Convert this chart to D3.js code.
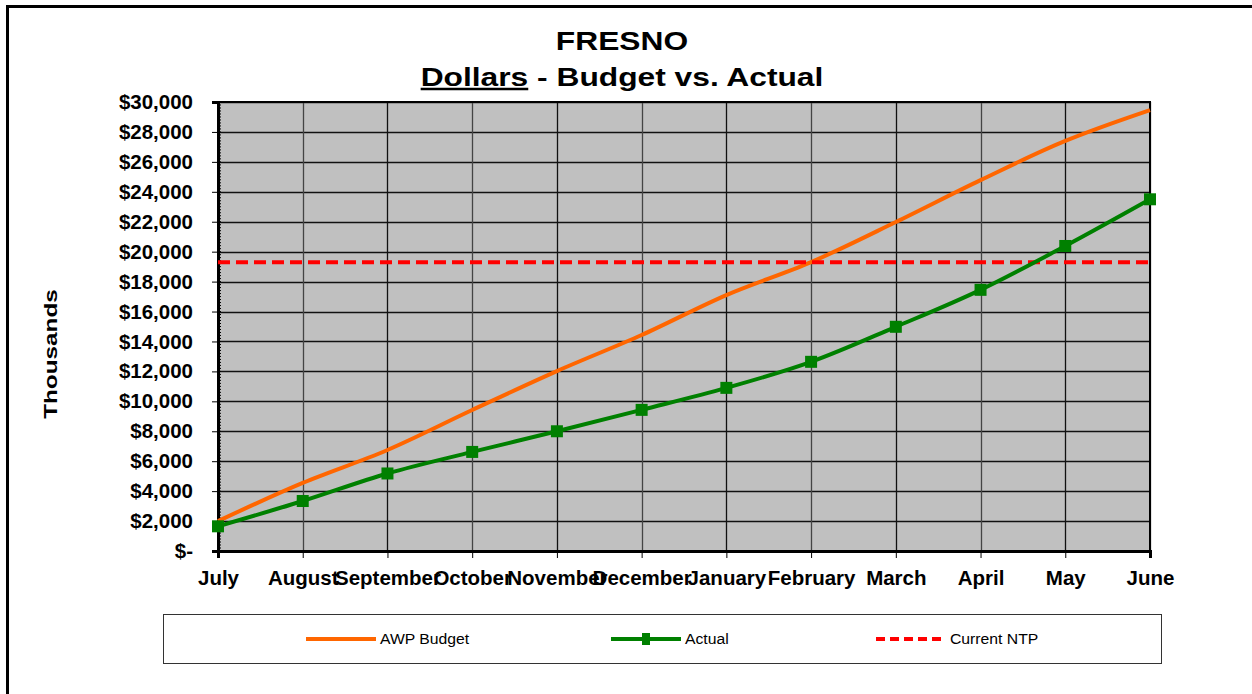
<!DOCTYPE html>
<html>
<head>
<meta charset="utf-8">
<script src="https://cdn.jsdelivr.net/npm/d3@7"></script>
<style>
  body { margin: 0; background: #fff; }
  svg { font-family: Arial, "Liberation Sans", sans-serif; display: block; }
</style>
</head>
<body>
<script>
var w = 1252;
var h = 694;

// data (thousands of dollars)
var months = ["July", "August", "September", "October", "November", "December",
  "January", "February", "March", "April", "May", "June"];
var budget = [2000, 4550, 6750, 9420, 12020, 14430, 17100, 19300, 21980, 24780, 27400, 29460];
var actual = [1650, 3340, 5180, 6620, 8000, 9430, 10900, 12640, 14980, 17450, 20380, 23500];
var ntp = 19300;
var yTicks = d3.range(0, 30001, 2000);

var margin = { top: 102, bottom: 143, left: 218, right: 102 };
var width = w - margin.left - margin.right;
var height = h - margin.top - margin.bottom;

var svg = d3.select("body")
  .append("svg")
  .attr("width", w)
  .attr("height", h);

// outer chart border
svg.append("rect")
  .attr("x", 7.5).attr("y", 6.5)
  .attr("width", w + 20).attr("height", h + 20)
  .attr("fill", "none")
  .attr("stroke", "#000")
  .attr("stroke-width", 3);

var x = d3.scalePoint()
  .domain(months)
  .range([0, width]);

var y = d3.scaleLinear()
  .domain([0, 30000])
  .range([height, 0]);

var g = svg.append("g")
  .attr("transform", "translate(" + margin.left + "," + margin.top + ")");

g.append("rect")
  .attr("width", width)
  .attr("height", height)
  .attr("fill", "#c0c0c0");

// grid
g.selectAll(".hgrid")
  .data(yTicks)
  .enter()
  .append("line")
  .attr("x1", 0).attr("x2", width)
  .attr("y1", function(d){ return Math.round(y(d)) + 0.5; })
  .attr("y2", function(d){ return Math.round(y(d)) + 0.5; })
  .attr("stroke", "#111")
  .attr("stroke-width", 1.3);

g.selectAll(".vgrid")
  .data(months)
  .enter()
  .append("line")
  .attr("x1", function(d){ return Math.round(x(d)) + 0.5; })
  .attr("x2", function(d){ return Math.round(x(d)) + 0.5; })
  .attr("y1", 0).attr("y2", height)
  .attr("stroke", function(d, i){ return i % 2 ? "#444" : "#111"; })
  .attr("stroke-width", 1.3);

// plot border
g.append("rect")
  .attr("width", width)
  .attr("height", height)
  .attr("fill", "none")
  .attr("stroke", "#000")
  .attr("stroke-width", 2);

// y axis
var yAxis = d3.axisLeft(y)
  .tickValues(yTicks)
  .tickSize(6)
  .tickPadding(19)
  .tickFormat(function(d){ return d == 0 ? "$-" : "$" + d3.format(",")(d); });

var ya = g.append("g").call(yAxis);
ya.select(".domain").attr("stroke-width", 3);
ya.selectAll("text")
  .attr("font-size", 20.5)
  .attr("font-weight", "bold")
  .attr("fill", "#000");

// minor ticks on the value axis
g.append("g")
  .selectAll("line")
  .data(d3.range(0, 30001, 200))
  .enter()
  .append("line")
  .attr("x1", -1).attr("x2", 3)
  .attr("y1", function(d){ return y(d); })
  .attr("y2", function(d){ return y(d); })
  .attr("stroke", "#000")
  .attr("stroke-width", 1);

// x axis
var xAxis = d3.axisBottom(x)
  .tickSize(7)
  .tickPadding(12);

var xa = g.append("g")
  .attr("transform", "translate(0," + height + ")")
  .call(xAxis);
xa.select(".domain").attr("stroke-width", 3);
xa.selectAll("text")
  .attr("font-size", 20.5)
  .attr("font-weight", "bold")
  .attr("fill", "#000");

// lines
var line = d3.line()
  .x(function(d, i){ return x(months[i]); })
  .y(function(d){ return y(d); })
  .curve(d3.curveCatmullRom);

g.append("path")
  .datum(budget)
  .attr("d", line)
  .attr("fill", "none")
  .attr("stroke", "#ff6600")
  .attr("stroke-width", 4);

g.append("line")
  .attr("x1", 0).attr("x2", width)
  .attr("y1", y(ntp)).attr("y2", y(ntp))
  .attr("stroke", "#ff0000")
  .attr("stroke-width", 4)
  .attr("stroke-dasharray", "12,6");

g.append("path")
  .datum(actual)
  .attr("d", line)
  .attr("fill", "none")
  .attr("stroke", "#008000")
  .attr("stroke-width", 4);

g.selectAll(".pt")
  .data(actual)
  .enter()
  .append("rect")
  .attr("x", function(d, i){ return x(months[i]) - 6; })
  .attr("y", function(d){ return y(d) - 6; })
  .attr("width", 12)
  .attr("height", 12)
  .attr("fill", "#008000");

// titles (the original type is stretched wide)
svg.append("text")
  .attr("transform", "translate(622,50) scale(1.27,1)")
  .attr("text-anchor", "middle")
  .attr("font-size", 25)
  .attr("font-weight", "bold")
  .text("FRESNO");

var t2 = svg.append("text")
  .attr("transform", "translate(622,86) scale(1.27,1)")
  .attr("text-anchor", "middle")
  .attr("font-size", 25)
  .attr("font-weight", "bold");
t2.append("tspan").attr("text-decoration", "underline").text("Dollars");
t2.append("tspan").text(" - Budget vs. Actual");

svg.append("text")
  .attr("transform", "translate(57,354) rotate(-90) scale(1.28,1)")
  .attr("text-anchor", "middle")
  .attr("font-size", 19)
  .attr("font-weight", "bold")
  .text("Thousands");

// legend
svg.append("rect")
  .attr("x", 163.5).attr("y", 614.5)
  .attr("width", 998).attr("height", 49)
  .attr("fill", "#fff")
  .attr("stroke", "#333")
  .attr("stroke-width", 1);

var legendItems = [
  { name: "AWP Budget", color: "#ff6600", x: 306, dash: null, marker: false },
  { name: "Actual", color: "#008000", x: 611, dash: null, marker: true },
  { name: "Current NTP", color: "#ff0000", x: 876, dash: "9,5", marker: false }
];

var lg = svg.selectAll(".legend")
  .data(legendItems)
  .enter()
  .append("g")
  .attr("transform", function(d){ return "translate(" + d.x + ",639)"; });

lg.append("line")
  .attr("x1", 0).attr("x2", 70)
  .attr("stroke", function(d){ return d.color; })
  .attr("stroke-width", 4)
  .attr("stroke-dasharray", function(d){ return d.dash; });

lg.filter(function(d){ return d.marker; })
  .append("rect")
  .attr("x", 31).attr("y", -6)
  .attr("width", 8).attr("height", 12)
  .attr("fill", "#008000");

lg.append("text")
  .attr("transform", "translate(74,5) scale(1.05,1)")
  .attr("font-size", 15)
  .text(function(d){ return d.name; });
</script>
</body>
</html>
